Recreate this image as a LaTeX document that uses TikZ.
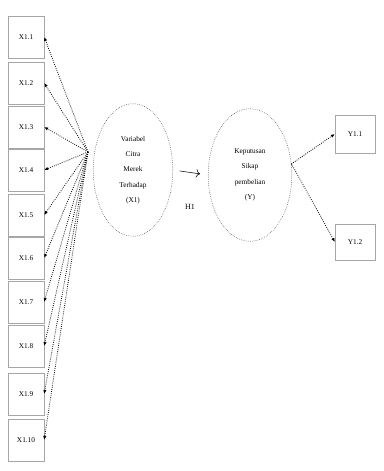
\documentclass[tikz,border=0pt]{standalone}
\usepackage{fontspec}
\setmainfont{Liberation Serif}
\usetikzlibrary{arrows.meta,shapes.geometric}
\tikzset{
  indbox/.style={
    draw=gray!70,
    thin,
    minimum width=27pt,
    minimum height=31.5pt,
    inner sep=1pt,
    font=\fontsize{5.5}{6.5}\selectfont
  },
  latent/.style={
    ellipse,
    draw=black!80,
    densely dotted,
    thin,
    minimum width=60pt,
    minimum height=100pt,
    align=center,
    inner sep=1pt,
    font=\fontsize{5.5}{11.5}\selectfont
  },
  load/.style={-{Latex[length=3pt,width=2.5pt]}, densely dotted, semithick},
  path/.style={-{To[length=3pt]}, thin, shorten >=6pt, shorten <=5pt}
}

\begin{document}
\begin{tikzpicture}[x=0.0265cm, y=-0.0265cm]
  \useasboundingbox (0,0) rectangle (383,471);

  % -------------------------------------------------------------------
  % indicators X1
  % -------------------------------------------------------------------
  \node[indbox] (x1) at (26,37) {X1.1};
  \node[indbox] (x2) at (26,83) {X1.2};
  \node[indbox] (x3) at (26,127) {X1.3};
  \node[indbox] (x4) at (26,170) {X1.4};
  \node[indbox] (x5) at (26,215) {X1.5};
  \node[indbox] (x6) at (26,258) {X1.6};
  \node[indbox] (x7) at (26,302) {X1.7};
  \node[indbox] (x8) at (26,346) {X1.8};
  \node[indbox] (x9) at (26,394) {X1.9};
  \node[indbox] (x10) at (26,440) {X1.10};

  % -------------------------------------------------------------------
  % latent variables
  % -------------------------------------------------------------------
  \node[latent] (lv1) at (133,170) {Variabel\\Citra\\Merek\\Terhadap\\(X1)};
  \node[latent, minimum width=63pt] (lv2) at (250,175) {Keputusan\\Sikap\\pembelian\\(Y)};
  \coordinate (hub) at (88,152);

  % -------------------------------------------------------------------
  % indicators Y
  % -------------------------------------------------------------------
  \node[indbox, minimum width=30pt, minimum height=28.5pt] (y1) at (355,134) {Y1.1};
  \node[indbox, minimum width=30pt, minimum height=27pt] (y2) at (355,242) {Y1.2};

  % loadings
  \draw[load] (hub) -- (x1.east);
  \draw[load] (hub) -- (x2.east);
  \draw[load] (hub) -- (x3.east);
  \draw[load] (hub) -- (x4.east);
  \draw[load] (hub) -- (x5.east);
  \draw[load] (hub) -- (x6.east);
  \draw[load] (hub) -- (x7.east);
  \draw[load] (hub) -- (x8.east);
  \draw[load] (hub) -- (x9.east);
  \draw[load] (hub) -- (x10.east);
  \draw[load] (lv2.15) -- (y1.west);
  \draw[load] (lv2.15) -- (y2.west);

  % structural path
  \draw[path] (lv1.east) -- (lv2.west);
  \node[font=\fontsize{6}{7}\selectfont] (h1) at (190,207) {H1};

\end{tikzpicture}
\end{document}
